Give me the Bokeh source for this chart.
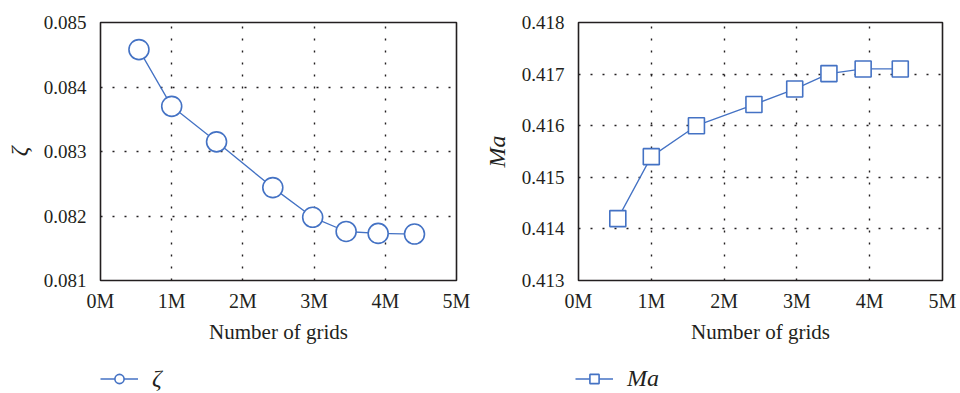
from bokeh.plotting import figure
from bokeh.layouts import row, column
from bokeh.models import (Range1d, FixedTicker, PrintfTickFormatter, Legend, LegendItem)
from bokeh.embed import file_html
from bokeh.resources import INLINE

# Grid-independence study: mesh size (millions of cells) vs. results
grids_zeta = [0.54, 1.00, 1.63, 2.42, 2.98, 3.45, 3.90, 4.41]
zeta = [0.08458, 0.08370, 0.08315, 0.08244, 0.08198, 0.08176, 0.08173, 0.08172]

grids_ma = [0.54, 1.00, 1.62, 2.41, 2.97, 3.44, 3.91, 4.42]
ma = [0.41420, 0.41540, 0.41600, 0.41641, 0.41671, 0.41701, 0.41710, 0.41710]

x_ticks = [0, 1, 2, 3, 4, 5]
zeta_ticks = [0.081, 0.082, 0.083, 0.084, 0.085]
ma_ticks = [0.413, 0.414, 0.415, 0.416, 0.417, 0.418]

BLUE = "#4472C4"
INK = "#231f20"
FONT = "Liberation Serif"
PLOT_H = 355
LEG_H = 38


def series(fig, xs, ys, marker, msize):
    ln = fig.line(xs, ys, line_color=BLUE, line_width=1.3)
    sc = fig.scatter(xs, ys, marker=marker, size=msize, fill_color="white",
                     line_color=BLUE, line_width=1.6)
    return ln, sc


def make_panel(xs, ys, yticks, ylabel, marker, msize, borders):
    left, right, top, bottom = borders
    p = figure(width=480, height=PLOT_H, output_backend="svg", toolbar_location=None,
               x_range=Range1d(0, 5), y_range=Range1d(yticks[0], yticks[-1]),
               min_border_left=left, min_border_right=right,
               min_border_top=top, min_border_bottom=bottom)
    p.background_fill_color = "white"
    p.border_fill_color = "white"
    p.outline_line_color = INK
    p.outline_line_width = 1.6

    for ax in (p.xaxis[0], p.yaxis[0]):
        ax.axis_line_color = None
        ax.major_tick_line_color = None
        ax.minor_tick_line_color = None
        ax.major_label_text_font = FONT
        ax.major_label_text_color = INK
        ax.axis_label_text_font = FONT
        ax.axis_label_text_color = INK
        ax.axis_label_text_font_style = "normal"

    p.xaxis.ticker = FixedTicker(ticks=x_ticks)
    p.xaxis.formatter = PrintfTickFormatter(format="%dM")
    p.xaxis.major_label_text_font_size = "20px"
    p.xaxis.major_label_standoff = 3
    p.xaxis.axis_label = "Number of grids"
    p.xaxis.axis_label_text_font_size = "21px"
    p.xaxis.axis_label_standoff = 5

    p.yaxis.ticker = FixedTicker(ticks=yticks)
    p.yaxis.formatter = PrintfTickFormatter(format="%.3f")
    p.yaxis.major_label_text_font_size = "19px"
    p.yaxis.major_label_standoff = 8
    p.yaxis.axis_label = ylabel
    p.yaxis.axis_label_text_font_size = "24px"
    p.yaxis.axis_label_text_font_style = "italic"
    p.yaxis.axis_label_standoff = 9

    for g in (p.xgrid[0], p.ygrid[0]):
        g.grid_line_color = INK
        g.grid_line_width = 1.4
        g.grid_line_dash = "2 10"

    series(p, xs, ys, marker, msize)
    return p


def make_key(xs, ys, marker, msize, label, x_off):
    # Key strip under each panel; its series sit outside the visible ranges
    k = figure(width=480, height=LEG_H, output_backend="svg", toolbar_location=None,
               x_axis_type=None, y_axis_type=None,
               x_range=Range1d(100, 101), y_range=Range1d(100, 101),
               min_border=0)
    k.outline_line_color = None
    k.grid.visible = False
    ln, sc = series(k, xs, ys, marker, msize)
    legend = Legend(items=[LegendItem(label=label, renderers=[ln, sc])],
                    location=(x_off, 1), orientation="horizontal",
                    glyph_width=38, glyph_height=23, label_standoff=14,
                    padding=0, margin=0, spacing=0,
                    border_line_color=None, background_fill_alpha=0,
                    label_text_font=FONT, label_text_font_size="24px",
                    label_text_font_style="italic", label_text_color=INK)
    k.add_layout(legend, "center")
    return k


p1 = make_panel(grids_zeta, zeta, zeta_ticks, "ζ", "circle", 20, (100, 24, 22, PLOT_H - 280))
p2 = make_panel(grids_ma, ma, ma_ticks, "Ma", "square", 16, (96, 18, 15, PLOT_H - 280))
k1 = make_key(grids_zeta, zeta, "circle", 20, "ζ", 100)
k2 = make_key(grids_ma, ma, "square", 16, "Ma", 95)

layout = column(row(p1, p2), row(k1, k2))
open("out.html", "w").write(file_html(layout, INLINE))
